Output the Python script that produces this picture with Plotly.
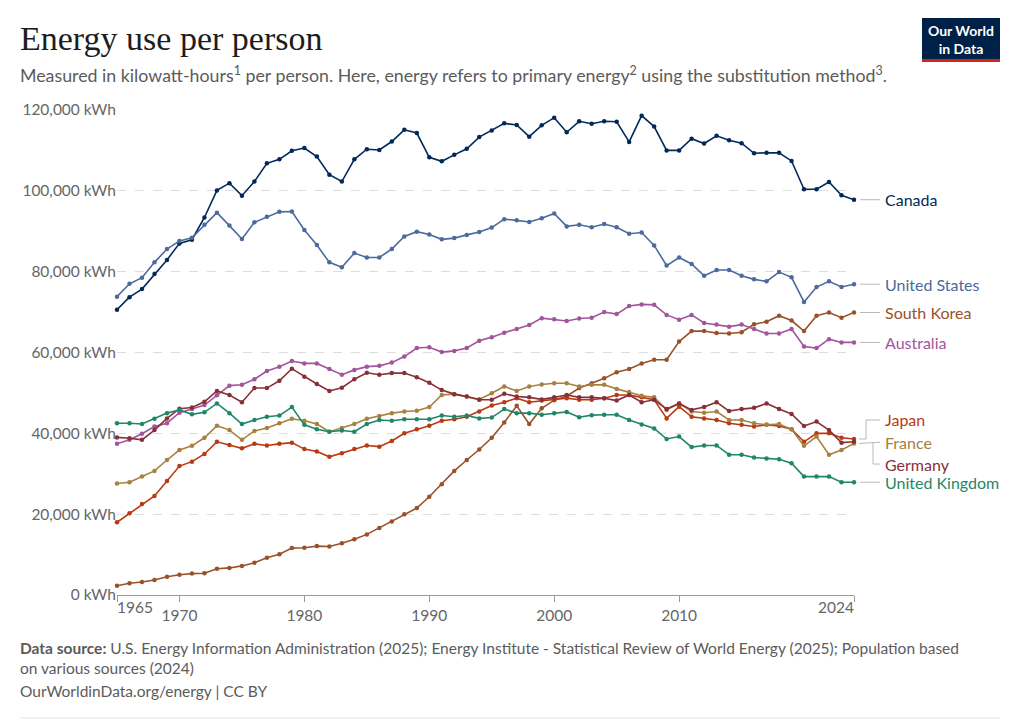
import plotly.graph_objects as go

# Energy use per person, kWh
years = list(range(1965, 2025))

canada = [70.6, 73.7, 75.7, 79.4, 82.9, 87.0, 87.9, 93.4, 100.1, 101.9,
          98.8, 102.3, 106.8, 107.8, 109.9, 110.6, 108.5, 104.0, 102.3, 107.8,
          110.3, 110.1, 112.2, 115.1, 114.3, 108.3, 107.3, 108.9, 110.4, 113.3,
          114.9, 116.7, 116.3, 113.4, 116.2, 118.1, 114.5, 117.2, 116.6, 117.2,
          117.1, 112.1, 118.6, 115.9, 110.0, 110.0, 112.9, 111.7, 113.6, 112.5,
          111.8, 109.3, 109.4, 109.4, 107.4, 100.4, 100.4, 102.2, 98.9, 97.8]

united_states = [73.8, 77.0, 78.5, 82.3, 85.6, 87.6, 88.4, 91.6, 94.6, 91.4,
                 88.1, 92.2, 93.6, 94.8, 94.9, 90.3, 86.6, 82.3, 81.1, 84.6,
                 83.5, 83.5, 85.6, 88.7, 89.9, 89.2, 88.0, 88.3, 89.1, 89.8,
                 90.9, 93.0, 92.7, 92.3, 93.2, 94.4, 91.2, 91.6, 91.0, 91.8,
                 91.0, 89.4, 89.7, 86.5, 81.5, 83.5, 81.9, 79.0, 80.4, 80.4,
                 79.0, 78.1, 77.6, 79.9, 78.6, 72.5, 76.2, 77.6, 76.2, 76.9]

south_korea = [2.3, 2.9, 3.2, 3.7, 4.5, 5.0, 5.3, 5.4, 6.5, 6.7,
               7.2, 8.0, 9.2, 10.1, 11.6, 11.7, 12.1, 12.0, 12.8, 13.8,
               15.0, 16.6, 18.2, 20.0, 21.5, 24.3, 27.4, 30.7, 33.4, 36.0,
               38.9, 42.7, 46.8, 42.3, 46.2, 48.2, 49.2, 51.2, 52.4, 53.6,
               55.1, 55.9, 57.3, 58.2, 58.2, 62.7, 65.3, 65.3, 64.8, 64.7,
               65.0, 67.0, 67.6, 69.1, 67.9, 65.3, 69.1, 69.9, 68.6, 69.9]

australia = [37.4, 38.4, 39.9, 41.7, 42.5, 45.1, 46.0, 47.0, 49.4, 51.8,
             52.0, 53.4, 55.4, 56.5, 57.9, 57.3, 57.3, 55.9, 54.5, 55.7,
             56.5, 56.7, 57.5, 59.0, 61.1, 61.3, 60.1, 60.4, 61.1, 62.9,
             63.8, 64.9, 65.8, 66.8, 68.5, 68.2, 67.8, 68.4, 68.6, 70.0,
             69.5, 71.5, 71.9, 71.8, 69.3, 68.1, 69.3, 67.3, 66.9, 66.4,
             66.9, 65.8, 64.7, 64.7, 65.8, 61.5, 61.1, 63.3, 62.5, 62.5]

japan = [18.0, 20.2, 22.5, 24.5, 28.2, 31.9, 33.0, 34.9, 37.9, 37.1,
         36.3, 37.4, 37.0, 37.4, 37.7, 36.1, 35.5, 34.2, 35.1, 36.1,
         37.0, 36.7, 38.1, 40.0, 41.0, 41.9, 43.1, 43.5, 44.1, 45.4,
         46.9, 47.7, 48.7, 47.7, 48.1, 48.4, 48.7, 48.3, 48.3, 48.7,
         49.5, 49.5, 48.9, 48.3, 43.7, 46.6, 44.1, 43.7, 43.3, 42.5,
         42.1, 41.7, 42.1, 41.8, 41.0, 37.9, 40.0, 40.0, 38.9, 38.6]

france = [27.6, 27.9, 29.3, 30.7, 33.4, 35.9, 36.9, 38.9, 41.9, 40.8,
          38.4, 40.6, 41.3, 42.5, 43.6, 43.1, 42.3, 40.4, 41.3, 42.3,
          43.6, 44.3, 45.0, 45.4, 45.6, 46.5, 49.5, 49.7, 49.1, 48.4,
          49.9, 51.6, 50.5, 51.6, 52.1, 52.4, 52.4, 51.6, 52.0, 52.0,
          51.0, 50.2, 49.3, 48.9, 45.8, 47.4, 45.4, 45.1, 45.4, 43.3,
          43.3, 42.5, 42.1, 42.3, 41.0, 36.9, 39.2, 34.7, 35.9, 37.5]

germany = [39.0, 38.8, 38.4, 40.8, 43.7, 46.1, 46.4, 47.8, 50.5, 49.5,
           47.7, 51.2, 51.2, 53.0, 56.0, 54.0, 52.2, 50.5, 51.3, 53.4,
           55.0, 54.5, 54.9, 54.9, 53.9, 52.5, 50.7, 49.7, 49.1, 48.3,
           48.3, 49.8, 49.1, 48.9, 48.4, 48.9, 49.5, 48.9, 48.9, 48.7,
           48.1, 49.5, 47.7, 48.3, 46.0, 47.4, 45.8, 46.5, 47.7, 45.5,
           46.0, 46.3, 47.4, 46.0, 44.8, 41.8, 42.9, 40.8, 37.7, 37.9]

united_kingdom = [42.5, 42.5, 42.3, 43.6, 45.0, 45.8, 44.7, 45.2, 47.4, 45.0,
                  42.3, 43.3, 44.1, 44.4, 46.5, 42.1, 41.0, 40.4, 40.7, 40.4,
                  42.3, 43.3, 43.1, 43.5, 43.5, 43.5, 44.4, 44.1, 44.4, 43.7,
                  43.9, 46.0, 45.0, 45.0, 44.6, 45.0, 45.3, 44.0, 44.5, 44.6,
                  44.6, 43.3, 42.2, 41.2, 38.6, 39.2, 36.6, 37.0, 37.0, 34.7,
                  34.7, 34.0, 33.8, 33.6, 32.6, 29.3, 29.3, 29.3, 27.9, 27.9]

countries = ["Canada", "United States", "South Korea", "Australia",
             "Japan", "France", "Germany", "United Kingdom"]
values = [canada, united_states, south_korea, australia,
          japan, france, germany, united_kingdom]
colors = ["#00295b", "#4c6a9c", "#9a5129", "#a2559c",
          "#b83a12", "#a8803f", "#883039", "#1f8668"]

x_ticks = [1965, 1970, 1980, 1990, 2000, 2010, 2024]
y_ticks = [0, 20000, 40000, 60000, 80000, 100000, 120000]
y_ticktext = [f"{v:,} kWh" for v in y_ticks]

# label positions on the right (kWh), spread where lines end close together
label_y = [97800, 76900, 69900, 62500, 43300, 37800, 32400, 27900]

# ---- layout in page pixels; the page body adds an 8px margin
OFF = 8
W, H = 1020 - OFF, 727 - OFF
L, R, T, B = 117, 854, 110, 595   # plot area in page pixels
YMAX = 120000


def px(x):
    return (x - L) / (R - L)


def py(y):
    return (B - y) / (B - T)


fig = go.Figure()

for name, vals, col in zip(countries, values, colors):
    fig.add_trace(go.Scatter(
        x=years,
        y=[v * 1000 for v in vals],
        mode="lines+markers",
        name=name,
        line=dict(color=col, width=1.6),
        marker=dict(color=col, size=4.5),
        cliponaxis=False,
        hovertemplate=name + "<br>%{x}: %{y:,.0f} kWh<extra></extra>",
    ))

shapes = []
annotations = []
conn = dict(color="#b8b8b8", width=1)

for name, vals, col, ly in zip(countries, values, colors, label_y):
    end = vals[-1] * 1000 / YMAX
    lab = ly / YMAX
    annotations.append(dict(
        x=px(883), y=lab, xref="paper", yref="paper",
        text=name, showarrow=False, xanchor="left", yanchor="middle",
        font=dict(family="Lato", size=16, color=col),
    ))
    if name == "Japan":
        path = (f"M {px(859)} {end} L {px(866)} {end} "
                f"L {px(866)} {lab} L {px(880)} {lab}")
    elif name == "Germany":
        path = (f"M {px(873)} {label_y[5] / YMAX} L {px(873)} {lab} "
                f"L {px(880)} {lab}")
    elif name == "France":
        path = f"M {px(859)} {end} L {px(880)} {lab}"
    else:
        path = f"M {px(860)} {end} L {px(880)} {lab}"
    shapes.append(dict(type="path", path=path, xref="paper", yref="paper",
                       line=conn))

# first and last year labels sit inside the axis ends
tickfont = dict(family="Lato", size=15.5, color="#666666")
x_ticktext = ["" if t in (x_ticks[0], x_ticks[-1]) else str(t) for t in x_ticks]
for t, anchor in ((x_ticks[0], "left"), (x_ticks[-1], "right")):
    annotations.append(dict(
        x=t, y=py(607), xref="x", yref="paper", text=str(t),
        showarrow=False, xanchor=anchor, yanchor="middle", xshift=-2 if anchor == "left" else 2,
        font=tickfont,
    ))

# logo
shapes.append(dict(type="rect", xref="paper", yref="paper",
                   x0=px(922), x1=px(1000), y0=py(62), y1=py(18),
                   fillcolor="#002147", line=dict(width=0)))
shapes.append(dict(type="rect", xref="paper", yref="paper",
                   x0=px(922), x1=px(1000), y0=py(62), y1=py(59),
                   fillcolor="#ce261e", line=dict(width=0)))
annotations.append(dict(
    x=px(961), y=py(39), xref="paper", yref="paper",
    text="<b>Our World<br>in Data</b>", showarrow=False,
    xanchor="center", yanchor="middle", align="center",
    font=dict(family="Lato", size=14, color="white"),
))

# bottom rule
shapes.append(dict(type="line", xref="paper", yref="paper",
                   x0=px(20), x1=px(1000), y0=py(718), y1=py(718),
                   line=dict(color="#e4e4e4", width=1)))

# titles
annotations.append(dict(
    x=px(18), y=py(38), xref="paper", yref="paper",
    text="Energy use per person", showarrow=False,
    xanchor="left", yanchor="middle",
    font=dict(family="Liberation Serif", size=34, color="#1d1d1d"),
))
annotations.append(dict(
    x=px(18), y=py(74), xref="paper", yref="paper",
    text=("Measured in kilowatt-hours<sup>1</sup> per person. Here, energy refers "
          "to primary energy<sup>2</sup> using the substitution method<sup>3</sup>."),
    showarrow=False, xanchor="left", yanchor="middle",
    font=dict(family="Lato", size=17.8, color="#5b5b5b"),
))

# footer
foot = dict(family="Lato", size=15.5, color="#5b5b5b")
annotations.append(dict(
    x=px(18), y=py(658), xref="paper", yref="paper",
    text=("<b>Data source:</b> U.S. Energy Information Administration (2025); "
          "Energy Institute - Statistical Review of World Energy (2025); Population based"
          "<br>on various sources (2024)"),
    showarrow=False, xanchor="left", yanchor="middle", align="left", font=foot,
))
annotations.append(dict(
    x=px(18), y=py(691), xref="paper", yref="paper",
    text="OurWorldinData.org/energy | CC BY",
    showarrow=False, xanchor="left", yanchor="middle", font=foot,
))

fig.update_layout(
    width=W, height=H,
    margin=dict(l=L - OFF, r=W - (R - OFF), t=T - OFF, b=H - (B - OFF)),
    paper_bgcolor="white", plot_bgcolor="white",
    showlegend=False,
    shapes=shapes,
    annotations=annotations,
    font=dict(family="Lato", color="#666666"),
    hovermode="closest",
)

fig.update_xaxes(
    range=[1965, 2024],
    tickvals=x_ticks, ticktext=x_ticktext,
    ticks="outside", ticklen=6, tickcolor="#999999",
    showline=True, linecolor="#999999", linewidth=1,
    showgrid=False, zeroline=False,
    tickfont=tickfont,
)

fig.update_yaxes(
    range=[0, YMAX],
    tickvals=y_ticks, ticktext=y_ticktext,
    showgrid=True, gridcolor="#dddddd", griddash="dash",
    zeroline=False, showline=False, ticks="",
    tickfont=tickfont,
)

fig.write_html("out.html")
